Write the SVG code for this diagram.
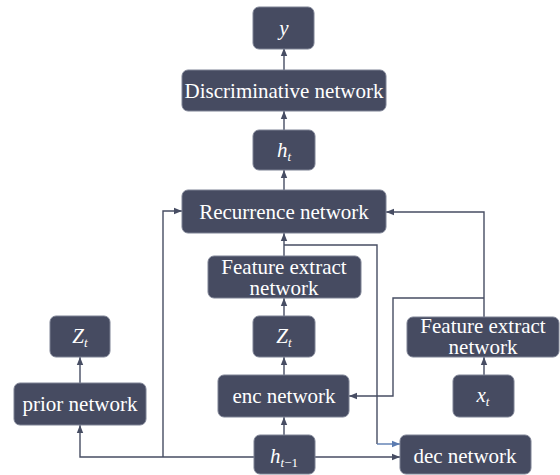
<svg xmlns="http://www.w3.org/2000/svg" width="560" height="475" viewBox="0 0 560 475">
<style>
.n rect{fill:#464b61;stroke:#7d8294;stroke-width:1}
.n text{fill:#ffffff;font-size:21px}
.m{font-style:italic}
.c path{fill:none;stroke:#474d63;stroke-width:1.4}
.c path.a{marker-end:url(#ah)}
.c path.b{stroke:#5b7bb0;marker-end:url(#ahb)}
</style>
<defs>
<marker id="ah" viewBox="0 0 8 8" refX="8" refY="4" markerWidth="8" markerHeight="8" markerUnits="userSpaceOnUse" orient="auto">
<path d="M0,0.8 L8,4 L0,7.2 Z" fill="#474d63"/>
</marker>
<marker id="ahb" viewBox="0 0 8 8" refX="8" refY="4" markerWidth="8" markerHeight="8" markerUnits="userSpaceOnUse" orient="auto">
<path d="M0,0.8 L8,4 L0,7.2 Z" fill="#5b7bb0"/>
</marker>
</defs>
<rect width="560" height="475" fill="#ffffff"/>
<g class="c" id="connectors">
<path class="a" d="M284,130 V111"/>
<path class="a" d="M284,70 V48"/>
<path class="a" d="M284,190 V170"/>
<path class="a" d="M284,256 V233"/>
<path class="a" d="M284,316 V298"/>
<path class="a" d="M284,375 V357"/>
<path class="a" d="M284,435 V417"/>
<path d="M284,245 H377 V444"/>
<path class="b" d="M377,444 H400"/>
<path class="a" d="M315,457 H400"/>
<path class="a" d="M254,457 H80 V425"/>
<path class="a" d="M163,457 V211 H182"/>
<path class="a" d="M80,383 V357"/>
<path class="a" d="M484,317 V212 H386"/>
<path class="a" d="M484,298 H393 V396 H349"/>
<path class="a" d="M484,375 V357"/>
</g>
<g class="n" id="y"><rect x="253" y="7" width="61" height="42" rx="6"/><text style="font-family:'Liberation Serif',serif" text-anchor="middle" x="284" y="35" class="m">y</text></g>
<g class="n" id="discriminative"><rect x="182" y="70" width="204" height="41" rx="6"/><text style="font-family:'Liberation Serif',serif" text-anchor="middle" x="284" y="98">Discriminative network</text></g>
<g class="n" id="ht"><rect x="253" y="130" width="62" height="40" rx="6"/><text style="font-family:'Liberation Serif',serif" text-anchor="middle" x="284" y="157"><tspan class="m">h</tspan><tspan class="m" font-size="13" dy="4">t</tspan></text></g>
<g class="n" id="recurrence"><rect x="182" y="190" width="204" height="43" rx="6"/><text style="font-family:'Liberation Serif',serif" text-anchor="middle" x="284" y="219">Recurrence network</text></g>
<g class="n" id="feat-mid"><rect x="208" y="256" width="153" height="42" rx="6"/><text style="font-family:'Liberation Serif',serif" text-anchor="middle" x="284" y="274">Feature extract</text><text style="font-family:'Liberation Serif',serif" text-anchor="middle" x="284" y="295">network</text></g>
<g class="n" id="zt-mid"><rect x="253" y="316" width="62" height="41" rx="6"/><text style="font-family:'Liberation Serif',serif" text-anchor="middle" x="284" y="343"><tspan class="m">Z</tspan><tspan class="m" font-size="13" dy="4">t</tspan></text></g>
<g class="n" id="enc"><rect x="218" y="375" width="131" height="42" rx="6"/><text style="font-family:'Liberation Serif',serif" text-anchor="middle" x="284" y="403">enc network</text></g>
<g class="n" id="htm1"><rect x="254" y="435" width="61" height="39" rx="6"/><text style="font-family:'Liberation Serif',serif" text-anchor="middle" x="284" y="463"><tspan class="m">h</tspan><tspan font-size="13" dy="4"><tspan class="m">t</tspan>−1</tspan></text></g>
<g class="n" id="dec"><rect x="400" y="435" width="131" height="39" rx="6"/><text style="font-family:'Liberation Serif',serif" text-anchor="middle" x="465" y="463">dec network</text></g>
<g class="n" id="feat-right"><rect x="407" y="317" width="152" height="40" rx="6"/><text style="font-family:'Liberation Serif',serif" text-anchor="middle" x="483" y="333">Feature extract</text><text style="font-family:'Liberation Serif',serif" text-anchor="middle" x="483" y="354">network</text></g>
<g class="n" id="xt"><rect x="453" y="375" width="61" height="42" rx="6"/><text style="font-family:'Liberation Serif',serif" text-anchor="middle" x="483" y="402"><tspan class="m">x</tspan><tspan class="m" font-size="13" dy="4">t</tspan></text></g>
<g class="n" id="zt-left"><rect x="50" y="316" width="60" height="41" rx="6"/><text style="font-family:'Liberation Serif',serif" text-anchor="middle" x="80" y="343"><tspan class="m">Z</tspan><tspan class="m" font-size="13" dy="4">t</tspan></text></g>
<g class="n" id="prior"><rect x="14" y="383" width="132" height="42" rx="6"/><text style="font-family:'Liberation Serif',serif" text-anchor="middle" x="80" y="411">prior network</text></g>
</svg>
